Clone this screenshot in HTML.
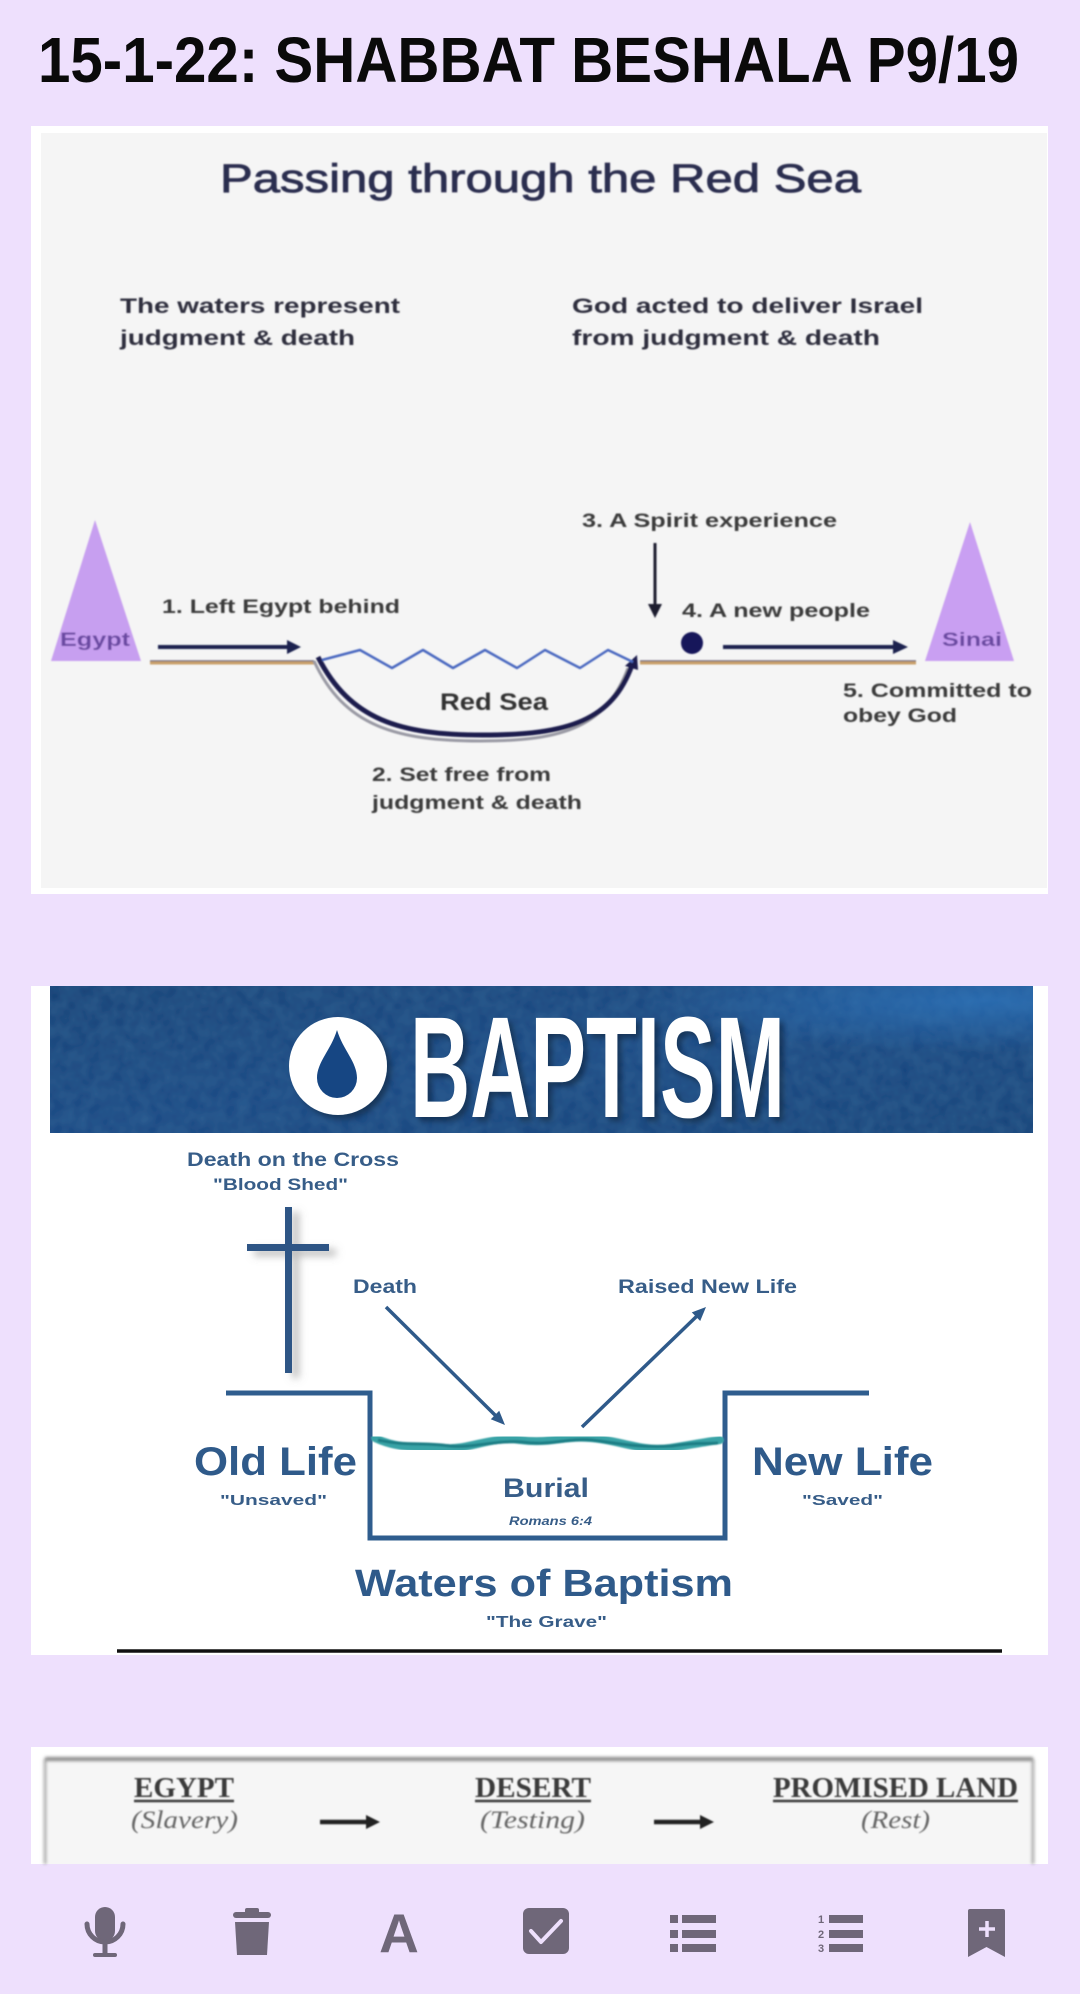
<!DOCTYPE html>
<html>
<head>
<meta charset="utf-8">
<style>
  html,body{margin:0;padding:0;background:#eee0fd;}
  body{width:1080px;height:1994px;overflow:hidden;}
  svg{display:block;}
  .sans{font-family:"Liberation Sans",Arial,sans-serif;}
  .serif{font-family:"Liberation Serif","Times New Roman",serif;}
</style>
</head>
<body>
<svg width="1080" height="1994" viewBox="0 0 1080 1994" xmlns="http://www.w3.org/2000/svg">
  <defs>
    <linearGradient id="blueg" x1="0" y1="0" x2="1" y2="1">
      <stop offset="0" stop-color="#123e74"/>
      <stop offset="0.5" stop-color="#164683"/>
      <stop offset="1" stop-color="#113f76"/>
    </linearGradient>
    <radialGradient id="bluespot" cx="0.95" cy="0.1" r="0.35">
      <stop offset="0" stop-color="#2f78c0" stop-opacity="0.7"/>
      <stop offset="1" stop-color="#2f78c0" stop-opacity="0"/>
    </radialGradient>
    <filter id="tex" x="0" y="0" width="1" height="1">
      <feTurbulence type="fractalNoise" baseFrequency="0.08" numOctaves="2" seed="3" result="n"/>
      <feColorMatrix in="n" type="matrix" values="0 0 0 0 0.04  0 0 0 0 0.15  0 0 0 0 0.33  0 0 0 0.55 0" result="c"/>
      <feComposite in="c" in2="SourceGraphic" operator="atop"/>
    </filter>
    <filter id="shadow" x="-50%" y="-20%" width="200%" height="140%">
      <feDropShadow dx="7" dy="5" stdDeviation="4" flood-color="#777" flood-opacity="0.5"/>
    </filter>
    <filter id="tshadow" x="-10%" y="-10%" width="130%" height="130%">
      <feDropShadow dx="4" dy="4" stdDeviation="3" flood-color="#000" flood-opacity="0.35"/>
    </filter>
    <filter id="blur1"><feGaussianBlur stdDeviation="0.7"/></filter>
    <filter id="blur2"><feGaussianBlur stdDeviation="1.6"/></filter>
  </defs>

  <!-- background -->
  <rect x="0" y="0" width="1080" height="1994" fill="#eee0fd"/>

  <!-- Title -->
  <text class="sans" x="38" y="82" font-size="64" font-weight="bold" fill="#0a0a0a" textLength="981" lengthAdjust="spacingAndGlyphs">15-1-22: SHABBAT BESHALA P9/19</text>

  <!-- ================= CARD 1 ================= -->
  <rect x="31" y="126" width="1017" height="768" fill="#ffffff"/>
  <rect x="41" y="133" width="1006" height="755" fill="#f5f5f5"/>

  <g filter="url(#blur1)">
    <text class="sans" x="220" y="192" font-size="40" fill="#2b2d4f" stroke="#2b2d4f" stroke-width="0.8" textLength="641" lengthAdjust="spacingAndGlyphs">Passing through the Red Sea</text>

    <g class="sans" font-size="21" font-weight="bold" fill="#2e2e3e">
      <text x="120" y="313" textLength="280" lengthAdjust="spacingAndGlyphs">The waters represent</text>
      <text x="120" y="345" textLength="235" lengthAdjust="spacingAndGlyphs">judgment &amp; death</text>
      <text x="572" y="313" textLength="351" lengthAdjust="spacingAndGlyphs">God acted to deliver Israel</text>
      <text x="572" y="345" textLength="308" lengthAdjust="spacingAndGlyphs">from judgment &amp; death</text>
    </g>

    <!-- triangles -->
    <polygon points="95,520 51,661 141,661" fill="#c79ff0"/>
    <polygon points="970,522 925,661 1014,661" fill="#c99ff2"/>
    <text class="sans" x="60" y="646" font-size="19" font-weight="bold" fill="#6b4aa2" textLength="70" lengthAdjust="spacingAndGlyphs">Egypt</text>
    <text class="sans" x="942" y="646" font-size="19" font-weight="bold" fill="#6b4aa2" textLength="60" lengthAdjust="spacingAndGlyphs">Sinai</text>

    <!-- ground lines -->
    <line x1="150" y1="661" x2="314" y2="661" stroke="#6f6a7a" stroke-width="1.5"/>
    <line x1="150" y1="663" x2="314" y2="663" stroke="#c9a06a" stroke-width="3"/>
    <line x1="640" y1="661" x2="916" y2="661" stroke="#6f6a7a" stroke-width="1.5"/>
    <line x1="640" y1="663" x2="916" y2="663" stroke="#c9a06a" stroke-width="3"/>

    <!-- arrow 1 -->
    <line x1="158" y1="647" x2="290" y2="647" stroke="#1c2350" stroke-width="4"/>
    <polygon points="287,640 301,647 287,654" fill="#1c2350"/>
    <text class="sans" x="162" y="613" font-size="19" font-weight="bold" fill="#3a3a3a" textLength="238" lengthAdjust="spacingAndGlyphs">1. Left Egypt behind</text>

    <!-- bowl shadow -->
    <path d="M314,661 C344,726 396,741 480,741 C566,741 606,726 628,668" fill="none" stroke="#9a9aa4" stroke-width="3"/>
    <!-- bowl -->
    <path d="M318,657 C350,720 400,735 483,735 C570,735 612,720 632,665" fill="none" stroke="#1c1c4e" stroke-width="5"/>
    <polygon points="637,655 638,670 625,666" fill="#1c1c4e"/>

    <!-- wave -->
    <polyline points="322,660 360,650 392,668 423,650 453,668 485,650 517,668 545,650 580,668 608,650 633,662" fill="none" stroke="#4a68c0" stroke-width="2.5" stroke-linejoin="round"/>

    <text class="sans" x="440" y="710" font-size="24" font-weight="bold" fill="#333" textLength="108" lengthAdjust="spacingAndGlyphs">Red Sea</text>
    <text class="sans" x="372" y="781" font-size="19" font-weight="bold" fill="#3a3a3a" textLength="179" lengthAdjust="spacingAndGlyphs">2. Set free from</text>
    <text class="sans" x="372" y="809" font-size="19" font-weight="bold" fill="#3a3a3a" textLength="210" lengthAdjust="spacingAndGlyphs">judgment &amp; death</text>

    <!-- spirit -->
    <text class="sans" x="582" y="527" font-size="19" font-weight="bold" fill="#3a3a3a" textLength="255" lengthAdjust="spacingAndGlyphs">3. A Spirit experience</text>
    <line x1="655" y1="543" x2="655" y2="606" stroke="#1c1c2e" stroke-width="3"/>
    <polygon points="648,604 655,618 662,604" fill="#1c1c2e"/>

    <circle cx="692" cy="643" r="11" fill="#14145a"/>
    <text class="sans" x="682" y="617" font-size="19" font-weight="bold" fill="#3a3a3a" textLength="188" lengthAdjust="spacingAndGlyphs">4. A new people</text>

    <line x1="723" y1="647" x2="896" y2="647" stroke="#1c2350" stroke-width="4"/>
    <polygon points="893,640 908,647 893,654" fill="#1c2350"/>

    <text class="sans" x="843" y="697" font-size="19" font-weight="bold" fill="#3a3a3a" textLength="189" lengthAdjust="spacingAndGlyphs">5. Committed to</text>
    <text class="sans" x="843" y="722" font-size="19" font-weight="bold" fill="#3a3a3a" textLength="114" lengthAdjust="spacingAndGlyphs">obey God</text>
  </g>

  <!-- ================= CARD 2 ================= -->
  <rect x="31" y="986" width="1017" height="669" fill="#ffffff"/>
  <g>
    <rect x="50" y="986" width="983" height="147" fill="url(#blueg)" filter="url(#tex)"/>
    <rect x="50" y="986" width="983" height="147" fill="url(#bluespot)"/>
  </g>
  <!-- drop icon -->
  <g filter="url(#tshadow)">
    <circle cx="338" cy="1066" r="49" fill="#ffffff"/>
    <text class="sans" x="410" y="1117" font-size="144" font-weight="bold" fill="#ffffff" textLength="375" lengthAdjust="spacingAndGlyphs" style="font-family:'Liberation Sans Narrow','Liberation Sans',sans-serif;">BAPTISM</text>
  </g>
  <path d="M337,1030 C331,1050 317,1062 317,1078 A20,20 0 0 0 357,1078 C357,1062 343,1050 337,1030 Z" fill="#164683"/>

  <g class="sans" fill="#375d88">
    <text x="187" y="1166" font-size="19" font-weight="bold" textLength="212" lengthAdjust="spacingAndGlyphs">Death on the Cross</text>
    <text x="213" y="1190" font-size="17" font-weight="bold" textLength="135" lengthAdjust="spacingAndGlyphs">"Blood Shed"</text>
    <text x="353" y="1293" font-size="19" font-weight="bold" textLength="64" lengthAdjust="spacingAndGlyphs">Death</text>
    <text x="618" y="1293" font-size="19" font-weight="bold" textLength="179" lengthAdjust="spacingAndGlyphs">Raised New Life</text>
    <text x="194" y="1475" font-size="40" textLength="163" lengthAdjust="spacingAndGlyphs" font-weight="bold" fill="#2f5a8a">Old Life</text>
    <text x="220" y="1505" font-size="15" font-weight="bold" textLength="107" lengthAdjust="spacingAndGlyphs">"Unsaved"</text>
    <text x="752" y="1475" font-size="40" textLength="181" lengthAdjust="spacingAndGlyphs" font-weight="bold" fill="#2f5a8a">New Life</text>
    <text x="802" y="1505" font-size="15" font-weight="bold" textLength="81" lengthAdjust="spacingAndGlyphs">"Saved"</text>
    <text x="503" y="1497" font-size="27" font-weight="bold" textLength="86" lengthAdjust="spacingAndGlyphs">Burial</text>
    <text x="509" y="1525" font-size="12" font-weight="bold" font-style="italic" textLength="83" lengthAdjust="spacingAndGlyphs">Romans 6:4</text>
    <text x="355" y="1596" font-size="38" font-weight="bold" textLength="378" lengthAdjust="spacingAndGlyphs" fill="#2f5a8a">Waters of Baptism</text>
    <text x="486" y="1627" font-size="16" font-weight="bold" textLength="121" lengthAdjust="spacingAndGlyphs">"The Grave"</text>
  </g>

  <!-- cross -->
  <g filter="url(#shadow)">
    <rect x="285" y="1207" width="7" height="166" fill="#2d5585"/>
    <rect x="247" y="1244" width="82" height="7" fill="#2d5585"/>
  </g>

  <!-- arrows -->
  <line x1="386" y1="1307" x2="497" y2="1417" stroke="#2f5a8a" stroke-width="3.5"/>
  <polygon points="505,1425 490.8,1419.3 499.2,1410.7" fill="#2f5a8a"/>
  <line x1="582" y1="1427" x2="698" y2="1315" stroke="#2f5a8a" stroke-width="3.5"/>
  <polygon points="706,1307 700.2,1321 691.8,1312.4" fill="#2f5a8a"/>

  <!-- grave -->
  <path d="M226,1393 H370 V1538 H725 V1393 H869" fill="none" stroke="#2f5d8e" stroke-width="5"/>

  <!-- water -->
  <g filter="url(#blur1)">
    <path d="M375,1438 C400,1450 420,1446 445,1448 C470,1450 490,1436 520,1440 C550,1444 560,1436 590,1438 C620,1440 640,1452 670,1448 C695,1444 705,1442 720,1440" fill="none" stroke="#39a3a6" stroke-width="8" stroke-linecap="round"/>
    <path d="M378,1440 C405,1446 425,1442 450,1446 C475,1448 495,1440 522,1442 C552,1446 565,1438 592,1440 C622,1444 642,1448 672,1446 C695,1442 708,1444 718,1443" fill="none" stroke="#1f7e85" stroke-width="3"/>
  </g>

  <!-- black line -->
  <line x1="117" y1="1651" x2="1002" y2="1651" stroke="#111" stroke-width="3.5"/>

  <!-- ================= CARD 3 ================= -->
  <rect x="31" y="1747" width="1017" height="117" fill="#ffffff"/>
  <rect x="45" y="1758" width="988" height="106" fill="#f6f6f6"/>
  <g filter="url(#blur2)">
    <line x1="45" y1="1759" x2="1033" y2="1759" stroke="#8a8a8a" stroke-width="4"/>
    <line x1="45" y1="1759" x2="45" y2="1864" stroke="#a0a0a0" stroke-width="2.5"/>
    <line x1="1033" y1="1759" x2="1033" y2="1864" stroke="#a0a0a0" stroke-width="2.5"/>
  </g>
  <g filter="url(#blur1)">
    <g class="serif" font-weight="bold" font-size="29" fill="#3a3a3a">
      <text x="134" y="1797" textLength="100" lengthAdjust="spacingAndGlyphs">EGYPT</text>
      <text x="475" y="1797" textLength="116" lengthAdjust="spacingAndGlyphs">DESERT</text>
      <text x="773" y="1797" textLength="245" lengthAdjust="spacingAndGlyphs">PROMISED LAND</text>
    </g>
    <line x1="134" y1="1801" x2="234" y2="1801" stroke="#3a3a3a" stroke-width="2.5"/>
    <line x1="475" y1="1801" x2="591" y2="1801" stroke="#3a3a3a" stroke-width="2.5"/>
    <line x1="773" y1="1801" x2="1018" y2="1801" stroke="#3a3a3a" stroke-width="2.5"/>
    <g class="serif" font-style="italic" font-size="25" fill="#666">
      <text x="131" y="1828" textLength="107" lengthAdjust="spacingAndGlyphs">(Slavery)</text>
      <text x="480" y="1828" textLength="105" lengthAdjust="spacingAndGlyphs">(Testing)</text>
      <text x="861" y="1828" textLength="69" lengthAdjust="spacingAndGlyphs">(Rest)</text>
    </g>
    <line x1="320" y1="1822" x2="370" y2="1822" stroke="#222" stroke-width="4.5"/>
    <polygon points="366,1815 380,1822 366,1829" fill="#222"/>
    <line x1="654" y1="1822" x2="704" y2="1822" stroke="#222" stroke-width="4.5"/>
    <polygon points="700,1815 714,1822 700,1829" fill="#222"/>
  </g>

  <!-- ================= TOOLBAR ================= -->
  <g fill="#6f6779" stroke="none">
    <!-- mic -->
    <rect x="95" y="1907" width="20" height="34" rx="10"/>
    <path d="M87,1924 A18,18 0 0 0 123,1924" fill="none" stroke="#6f6779" stroke-width="5" stroke-linecap="round"/>
    <rect x="102.5" y="1941" width="5" height="13"/>
    <line x1="95" y1="1955" x2="115" y2="1955" stroke="#6f6779" stroke-width="4" stroke-linecap="round"/>

    <!-- trash -->
    <rect x="245" y="1908" width="14" height="6" rx="2"/>
    <rect x="233" y="1912" width="38" height="6" rx="3"/>
    <polygon points="235,1922 269,1922 267,1955 237,1955"/>

    <!-- A -->
    <text class="sans" x="399" y="1952" font-size="55" font-weight="bold" text-anchor="middle" fill="#6f6779">A</text>

    <!-- checkbox -->
    <rect x="523" y="1908" width="46" height="46" rx="6"/>
    <polyline points="531,1931 541,1942 561,1921" fill="none" stroke="#eee0fd" stroke-width="4" stroke-linecap="round" stroke-linejoin="round"/>

    <!-- bullet list -->
    <rect x="670" y="1915" width="8" height="8"/>
    <rect x="682" y="1915" width="34" height="8"/>
    <rect x="670" y="1930" width="8" height="8"/>
    <rect x="682" y="1930" width="34" height="8"/>
    <rect x="670" y="1944" width="8" height="8"/>
    <rect x="682" y="1944" width="34" height="8"/>

    <!-- numbered list -->
    <text class="sans" x="821" y="1923" font-size="11" font-weight="bold" text-anchor="middle" fill="#6f6779">1</text>
    <text class="sans" x="821" y="1938" font-size="11" font-weight="bold" text-anchor="middle" fill="#6f6779">2</text>
    <text class="sans" x="821" y="1952" font-size="11" font-weight="bold" text-anchor="middle" fill="#6f6779">3</text>
    <rect x="829" y="1915" width="34" height="8"/>
    <rect x="829" y="1930" width="34" height="8"/>
    <rect x="829" y="1944" width="34" height="8"/>

    <!-- bookmark plus -->
    <path d="M970,1909 H1003 Q1005,1909 1005,1911 V1957 L986.5,1947 L968,1957 V1911 Q968,1909 970,1909 Z"/>
    <line x1="987" y1="1921" x2="987" y2="1937" stroke="#eee0fd" stroke-width="3.5"/>
    <line x1="979" y1="1929" x2="995" y2="1929" stroke="#eee0fd" stroke-width="3.5"/>
  </g>
</svg>
</body>
</html>
